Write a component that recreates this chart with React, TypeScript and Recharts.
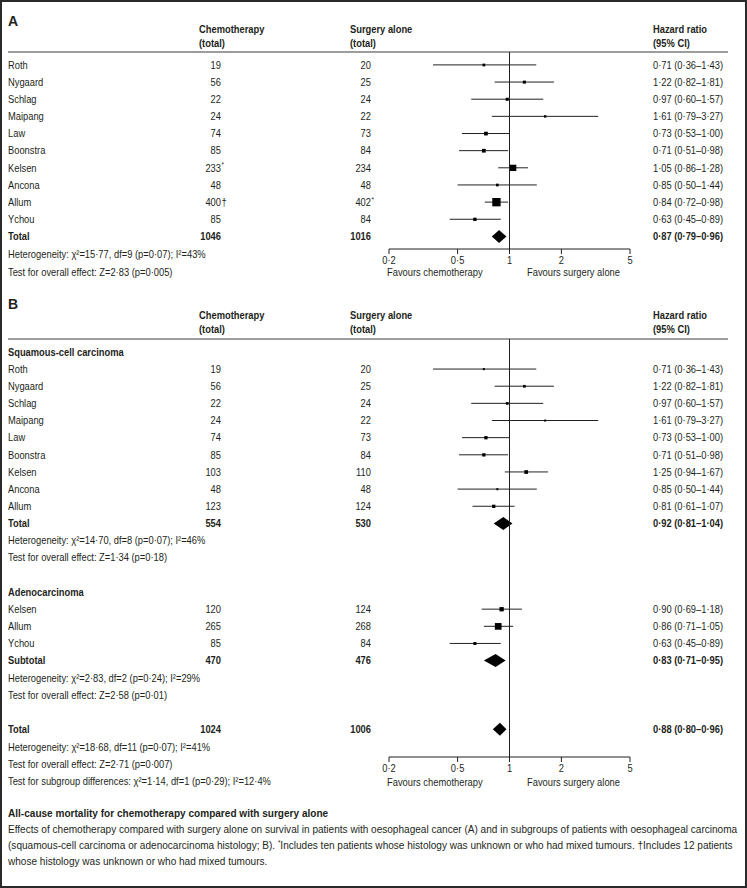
import React from "react";
import { ComposedChart, Bar, Scatter, XAxis, YAxis, ReferenceLine } from "recharts";

const FONT = "'Liberation Sans', Arial, sans-serif";
const INK = "#231f20";
const FS = 10.5;
const K = 0.89; // horizontal squeeze to mimic the condensed journal face

// ---- panel A: all patients ----
const namesA = ["Roth", "Nygaard", "Schlag", "Maipang", "Law", "Boonstra", "Kelsen", "Ancona", "Allum", "Ychou", "Total"];
const kindsA = ["study", "study", "study", "study", "study", "study", "study", "study", "study", "study", "total"];
const chemoA = ["19", "56", "22", "24", "74", "85", "233*", "48", "400†", "85", "1046"];
const surgeryA = ["20", "25", "24", "22", "73", "84", "234", "48", "402*", "84", "1016"];
const hrA = [0.71, 1.22, 0.97, 1.61, 0.73, 0.71, 1.05, 0.85, 0.84, 0.63, 0.87];
const loA = [0.36, 0.82, 0.6, 0.79, 0.53, 0.51, 0.86, 0.5, 0.72, 0.45, 0.79];
const hiA = [1.43, 1.81, 1.57, 3.27, 1.0, 0.98, 1.28, 1.44, 0.98, 0.89, 0.96];
const weightA = [4, 5, 5, 3, 7.5, 7.5, 21.5, 4, 37.5, 6, 0];
const statsA = [
  "Heterogeneity: χ²=15·77, df=9 (p=0·07); I²=43%",
  "Test for overall effect: Z=2·83 (p=0·005)",
];

// ---- panel B: by histology ----
const namesB = [
  "Squamous-cell carcinoma", "Roth", "Nygaard", "Schlag", "Maipang", "Law", "Boonstra", "Kelsen", "Ancona", "Allum", "Total",
  "Heterogeneity: χ²=14·70, df=8 (p=0·07); I²=46%", "Test for overall effect: Z=1·34 (p=0·18)", "",
  "Adenocarcinoma", "Kelsen", "Allum", "Ychou", "Subtotal",
  "Heterogeneity: χ²=2·83, df=2 (p=0·24); I²=29%", "Test for overall effect: Z=2·58 (p=0·01)", "",
  "Total",
];
const kindsB = [
  "head", "study", "study", "study", "study", "study", "study", "study", "study", "study", "total",
  "stat", "stat", "blank",
  "head", "study", "study", "study", "total",
  "stat", "stat", "blank",
  "total",
];
const chemoB = ["", "19", "56", "22", "24", "74", "85", "103", "48", "123", "554", "", "", "", "", "120", "265", "85", "470", "", "", "", "1024"];
const surgeryB = ["", "20", "25", "24", "22", "73", "84", "110", "48", "124", "530", "", "", "", "", "124", "268", "84", "476", "", "", "", "1006"];
const hrB = [null, 0.71, 1.22, 0.97, 1.61, 0.73, 0.71, 1.25, 0.85, 0.81, 0.92, null, null, null, null, 0.9, 0.86, 0.63, 0.83, null, null, null, 0.88];
const loB = [null, 0.36, 0.82, 0.6, 0.79, 0.53, 0.51, 0.94, 0.5, 0.61, 0.81, null, null, null, null, 0.69, 0.71, 0.45, 0.71, null, null, null, 0.8];
const hiB = [null, 1.43, 1.81, 1.57, 3.27, 1.0, 0.98, 1.67, 1.44, 1.07, 1.04, null, null, null, null, 1.18, 1.05, 0.89, 0.95, null, null, null, 0.96];
const weightB = [0, 2.2, 3.9, 3.9, 2.2, 5.9, 5.9, 7.4, 2.2, 5.9, 0, 0, 0, 0, 0, 10, 24.3, 4.9, 0, 0, 0, 0, 0];
const statsB = [
  "Heterogeneity: χ²=18·68, df=11 (p=0·07); I²=41%",
  "Test for overall effect: Z=2·71 (p=0·007)",
  "Test for subgroup differences: χ²=1·14, df=1 (p=0·29); I²=12·4%",
];

const axisTicks = [0.2, 0.5, 1, 2, 5];

const fmt = (v) => v.toFixed(2).replace(".", "·");

function buildRows(names, kinds, chemo, surgery, hr, lo, hi, weight) {
  return names.map((name, i) => ({
    key: "r" + i,
    name,
    kind: kinds[i],
    chemo: chemo[i],
    surgery: surgery[i],
    est: hr[i],
    ci: hr[i] == null ? null : [lo[i], hi[i]],
    w: weight[i],
    label: hr[i] == null ? "" : `${fmt(hr[i])} (${fmt(lo[i])}–${fmt(hi[i])})`,
  }));
}

const rowsA = buildRows(namesA, kindsA, chemoA, surgeryA, hrA, loA, hiA, weightA);
const rowsB = buildRows(namesB, kindsB, chemoB, surgeryB, hrB, loB, hiB, weightB);

// svg text squeezed horizontally around its anchor point
function ST({ x, y, anchor = "start", children, size }) {
  return (
    <text transform={`translate(${x} ${y}) scale(${K} 1)`} dy="0.35em" textAnchor={anchor} fontSize={size}>
      {children}
    </text>
  );
}

// count with an optional footnote mark hanging to the right
function Count({ x, y, value }) {
  const m = value.match(/^(\d+)([*†]?)$/);
  const num = m ? m[1] : value;
  const mark = m ? m[2] : "";
  return (
    <>
      <ST x={x} y={y} anchor="end">{num}</ST>
      {mark === "*" && <ST x={x + 0.5} y={y - 3} size={7}>*</ST>}
      {mark === "†" && <ST x={x + 0.5} y={y}>†</ST>}
    </>
  );
}

function RowTick(props) {
  const { y, index, rows } = props;
  const r = rows[index];
  if (!r || r.kind === "blank") return null;
  const bold = r.kind === "total" || r.kind === "head";
  return (
    <g fontFamily={FONT} fontSize={FS} fill={INK} fontWeight={bold ? 700 : 400}>
      <ST x={8} y={y}>{r.name}</ST>
      {r.chemo && <Count x={221} y={y} value={r.chemo} />}
      {r.surgery && <Count x={371} y={y} value={r.surgery} />}
      {r.label && <ST x={653} y={y}>{r.label}</ST>}
    </g>
  );
}

function AxisTick({ x, y, payload }) {
  return (
    <g fontFamily={FONT} fontSize={FS} fill={INK}>
      <ST x={x} y={y + 4} anchor="middle">{String(payload.value).replace(".", "·")}</ST>
    </g>
  );
}

// confidence interval line, or pooled diamond for totals
function CiShape(props) {
  const { x, y, width, height, payload } = props;
  if (!payload || !payload.ci || !(width > 0)) return null;
  const cy = y + height / 2;
  if (payload.kind === "total") {
    const [lo, hi] = payload.ci;
    const cx = x + (width * (Math.log(payload.est) - Math.log(lo))) / (Math.log(hi) - Math.log(lo));
    const h = 6.5;
    return <polygon points={`${x},${cy} ${cx},${cy - h} ${x + width},${cy} ${cx},${cy + h}`} fill="#000" />;
  }
  return <line x1={x} x2={x + width} y1={cy} y2={cy} stroke="#222" strokeWidth={1} />;
}

function Square(props) {
  const { cx, cy, payload } = props;
  if (!payload || payload.est == null || payload.kind !== "study") return null;
  const s = Math.max(2, 1.36 * Math.sqrt(payload.w));
  return <rect x={cx - s / 2} y={cy - s / 2} width={s} height={s} fill="#000" />;
}

function Forest({ rows, height, top, padTop, padBottom }) {
  return (
    <ComposedChart
      width={747}
      height={height}
      data={rows}
      layout="vertical"
      margin={{ top, right: 117, bottom: 0, left: 0 }}
    >
      <XAxis
        type="number"
        dataKey="est"
        scale="log"
        domain={[0.2, 5]}
        ticks={axisTicks}
        interval={0}
        allowDataOverflow
        height={30}
        tickSize={5}
        axisLine={{ stroke: INK }}
        tickLine={{ stroke: INK }}
        tick={<AxisTick />}
      />
      <YAxis
        type="category"
        dataKey="key"
        width={389}
        interval={0}
        axisLine={false}
        tickLine={false}
        padding={{ top: padTop, bottom: padBottom }}
        tick={(p) => <RowTick {...p} rows={rows} />}
      />
      <ReferenceLine x={1} stroke={INK} strokeWidth={1} />
      <Bar dataKey="ci" barSize={13} shape={(p) => <CiShape {...p} />} isAnimationActive={false} />
      <Scatter dataKey="est" shape={(p) => <Square {...p} />} isAnimationActive={false} />
    </ComposedChart>
  );
}

function T({ x, y, children, bold = false, size = FS, family = FONT, squeeze = K }) {
  return (
    <div
      style={{
        position: "absolute",
        left: x,
        top: y - 7,
        lineHeight: "14px",
        fontSize: size,
        fontFamily: family,
        fontWeight: bold ? 700 : 400,
        color: INK,
        whiteSpace: "nowrap",
        transform: `scaleX(${squeeze})`,
        transformOrigin: "0 50%",
      }}
    >
      {children}
    </div>
  );
}

function Header({ label, y, h1, h2, rule }) {
  return (
    <>
      <T x={8} y={y} bold size={14} squeeze={1}>{label}</T>
      <T x={199} y={h1} bold>Chemotherapy</T>
      <T x={199} y={h2} bold>(total)</T>
      <T x={350} y={h1} bold>Surgery alone</T>
      <T x={350} y={h2} bold>(total)</T>
      <T x={653} y={h1} bold>Hazard ratio</T>
      <T x={653} y={h2} bold>(95% CI)</T>
      <div style={{ position: "absolute", left: 8, top: rule - 1, width: 720, height: 2, background: "#9d9d9d" }} />
    </>
  );
}

function Favours({ y }) {
  return (
    <>
      <T x={387} y={y}>Favours chemotherapy</T>
      <T x={527} y={y}>Favours surgery alone</T>
    </>
  );
}

const CAP = 11.3;

export default function App() {
  return (
    <div style={{ position: "absolute", left: 0, top: 0, width: 747, height: 888, background: "#fff", overflow: "hidden" }}>
      <div style={{ position: "absolute", inset: 0, border: "2px solid #2a2a2a", boxSizing: "border-box" }} />

      <Header label="A" y={21} h1={29} h2={43} rule={52} />
      <div style={{ position: "absolute", left: 0, top: 0 }}>
        <Forest rows={rowsA} height={279} top={52} padTop={4.4} padBottom={3.95} />
      </div>
      <T x={8} y={254}>{statsA[0]}</T>
      <T x={8} y={272}>{statsA[1]}</T>
      <Favours y={272} />

      <Header label="B" y={304} h1={315} h2={329} rule={339} />
      <div style={{ position: "absolute", left: 0, top: 290 }}>
        <Forest rows={rowsB} height={497} top={49} padTop={4.4} padBottom={19.15} />
      </div>
      <T x={8} y={747}>{statsB[0]}</T>
      <T x={8} y={764}>{statsB[1]}</T>
      <T x={8} y={781}>{statsB[2]}</T>
      <Favours y={782} />

      <T x={8} y={813} bold size={CAP}>All-cause mortality for chemotherapy compared with surgery alone</T>
      <T x={8} y={829} size={CAP}>
        Effects of chemotherapy compared with surgery alone on survival in patients with oesophageal cancer (A) and in subgroups of patients with oesophageal carcinoma
      </T>
      <T x={8} y={845} size={CAP}>
        (squamous-cell carcinoma or adenocarcinoma histology; B).{" "}
        <span style={{ fontSize: 7, position: "relative", top: -4 }}>*</span>Includes ten patients whose histology was unknown or who had mixed tumours. †Includes 12 patients
      </T>
      <T x={8} y={861} size={CAP}>whose histology was unknown or who had mixed tumours.</T>
    </div>
  );
}
